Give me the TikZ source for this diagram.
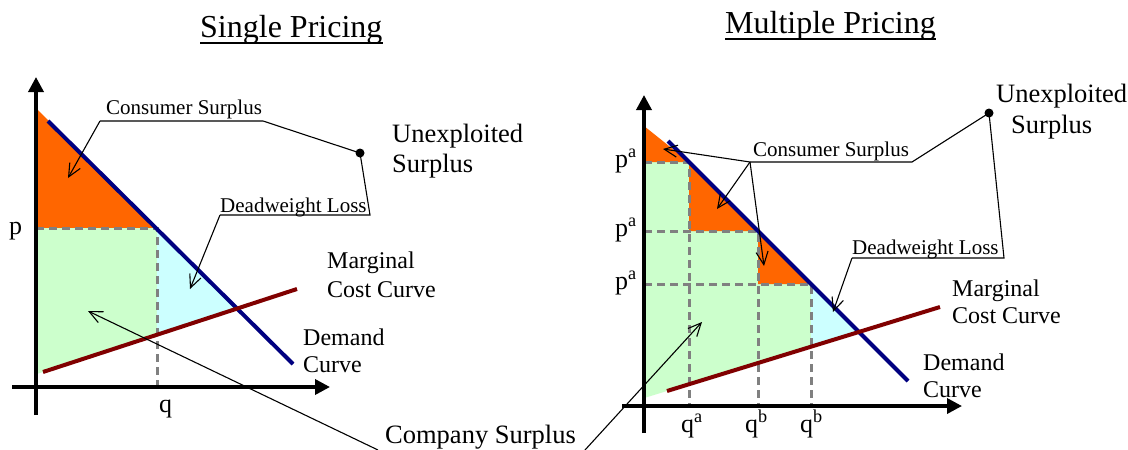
\documentclass[tikz,border=0pt]{standalone}
\usepackage{fontspec}
\setmainfont{Liberation Serif}
\usetikzlibrary{arrows.meta}
\definecolor{csorange}{HTML}{FF6600}
\definecolor{psgreen}{HTML}{CCFFCC}
\definecolor{dwcyan}{HTML}{CCFFFF}
\definecolor{dblue}{HTML}{000080}
\definecolor{mcred}{HTML}{800000}
\definecolor{dashgray}{HTML}{808080}
\begin{document}
\begin{tikzpicture}[x=1pt,y=-1pt,
  axis/.style={line width=3.5pt,-{Triangle[length=15pt,width=15pt]}},
  demand/.style={line width=4pt,dblue},
  mc/.style={line width=4pt,mcred},
  guide/.style={line width=3pt,dashgray,dash pattern=on 8pt off 5pt},
  leader/.style={line width=1.1pt},
  pointer/.style={leader,-{Straight Barb[length=13pt,width=12pt,line width=1.1pt]}},
  titletext/.style={inner sep=0pt,anchor=base west,font=\fontsize{32}{36}\selectfont},
  smalltext/.style={inner sep=0pt,anchor=base west,font=\fontsize{21}{24}\selectfont},
  midtext/.style={inner sep=0pt,anchor=base west,font=\fontsize{24}{28}\selectfont},
  bigtext/.style={inner sep=0pt,anchor=base west,font=\fontsize{26.5}{30}\selectfont},
  axtext/.style={inner sep=0pt,anchor=base west,font=\fontsize{26}{28}\selectfont}
]
\useasboundingbox (0,0) rectangle (1128,450);

% ================= LEFT: single pricing =================
\coordinate (LD1) at (48,121);
\coordinate (LD2) at (293,364);
\coordinate (LM1) at (43,372);
\coordinate (LM2) at (297,289);
\coordinate (LX) at (intersection of LD1--LD2 and LM1--LM2);
\coordinate (LMq) at (intersection of LM1--LM2 and 157,0--157,500);
\coordinate (LMo) at (intersection of LM1--LM2 and 36,0--36,500);

\fill[csorange] (36,108) -- (156,228) -- (36,228) -- cycle;
\fill[psgreen] (36,228) -- (157,228) -- (LMq) -- (LMo) -- cycle;
\fill[dwcyan] (157,228) -- (LX) -- (LMq) -- cycle;

\draw[guide] (36,228) -- (157,228) -- (157,387);
\draw[demand] (LD1) -- (LD2);
\draw[mc] (LM1) -- (LM2);
\draw[axis] (36,415) -- (36,77);
\draw[axis] (12,387) -- (330,387);

\node[axtext] (p1) at (9,234) {p};
\node[axtext] (q1) at (159,412) {q};

\node[titletext] (t1) at (200,37) {Single Pricing};
\draw[line width=2pt] ([yshift=-6pt]t1.base west) -- ([yshift=-6pt]t1.base east);

\node[smalltext] (cs1) at (106,114) {Consumer Surplus};
\node[smalltext] (dw1) at (220,212) {Deadweight Loss};
\node[bigtext] (ue1) at (392,142) {Unexploited};
\node[bigtext] (ue1b) at (392,172) {Surplus};
\node[midtext] (mc1a) at (327,268) {Marginal};
\node[midtext] (mc1b) at (327,297) {Cost Curve};
\node[midtext] (dc1a) at (303,345) {Demand};
\node[midtext] (dc1b) at (303,372) {Curve};

\coordinate (dot1) at (360,153);
\fill (dot1) circle (4.5pt);
\coordinate (cs1l) at (100,121);
\coordinate (cs1r) at (263,121);
\draw[leader] (cs1l) -- (cs1r) -- (dot1);
\draw[pointer] (cs1l) -- (68,178);
\coordinate (dw1l) at (220,215);
\coordinate (dw1r) at (370,215);
\draw[leader] (dot1) -- (dw1r) -- (dw1l);
\draw[pointer] (dw1l) -- (190,289);

% ================= RIGHT: multiple pricing =================
\coordinate (RD1) at (668,141);
\coordinate (RD2) at (908,381);
\coordinate (RM1) at (667,391);
\coordinate (RM2) at (940,307);
\coordinate (RX) at (intersection of RD1--RD2 and RM1--RM2);
\coordinate (RMq) at (intersection of RM1--RM2 and 811,0--811,500);
\coordinate (RMo) at (intersection of RM1--RM2 and 644,0--644,500);

\fill[psgreen] (644,162) -- (689,162) -- (689,231) -- (758,231) -- (758,284)
   -- (811,284) -- (RMq) -- (RMo) -- cycle;
\fill[csorange] (644,126) -- (689,162) -- (644,162) -- cycle;
\fill[csorange] (689,162) -- (758,231) -- (689,231) -- cycle;
\fill[csorange] (758,231) -- (811,284) -- (758,284) -- cycle;
\fill[dwcyan] (811,284) -- (RX) -- (RMq) -- cycle;

\draw[guide] (644,162) -- (689,162) -- (689,406);
\draw[guide] (644,231) -- (758,231) -- (758,406);
\draw[guide] (644,284) -- (811,284) -- (811,406);
\draw[demand] (RD1) -- (RD2);
\draw[mc] (RM1) -- (RM2);
\draw[axis] (644,433) -- (644,95);
\draw[axis] (622,406) -- (962,406);

\node[axtext] (pa1) at (615,167) {p\textsuperscript{a}};
\node[axtext] (pa2) at (615,236) {p\textsuperscript{a}};
\node[axtext] (pa3) at (615,289) {p\textsuperscript{a}};
\node[axtext] (qa) at (681,432) {q\textsuperscript{a}};
\node[axtext] (qb1) at (745,432) {q\textsuperscript{b}};
\node[axtext] (qb2) at (800,432) {q\textsuperscript{b}};

\node[titletext] (t2) at (725,33) {Multiple Pricing};
\draw[line width=2pt] ([yshift=-6pt]t2.base west) -- ([yshift=-6pt]t2.base east);

\node[smalltext] (cs2) at (753,156) {Consumer Surplus};
\node[smalltext] (dw2) at (852,254) {Deadweight Loss};
\node[bigtext] (ue2) at (996,102) {Unexploited};
\node[bigtext] (ue2b) at (1011,133) {Surplus};
\node[midtext] (mc2a) at (952,296) {Marginal};
\node[midtext] (mc2b) at (952,323) {Cost Curve};
\node[midtext] (dc2a) at (923,370) {Demand};
\node[midtext] (dc2b) at (923,397) {Curve};

\coordinate (dot2) at (989,113);
\fill (dot2) circle (4.5pt);
\coordinate (cs2l) at (750,162);
\coordinate (cs2r) at (912,162);
\draw[leader] (cs2l) -- (cs2r) -- (dot2);
\draw[pointer] (cs2l) -- (663,149);
\draw[pointer] (cs2l) -- (717,209);
\draw[pointer] (cs2l) -- (764,266);
\coordinate (dw2l) at (852,258);
\coordinate (dw2r) at (1004,258);
\draw[leader] (dot2) -- (dw2r) -- (dw2l);
\draw[pointer] (dw2l) -- (833,312);

% ================= company surplus (shared) =================
\node[bigtext] (comp) at (385,443) {Company Surplus};
\draw[pointer] (378,450) -- (88,311);
\draw[pointer] (585,450) -- (702,322);
\end{tikzpicture}
\end{document}
